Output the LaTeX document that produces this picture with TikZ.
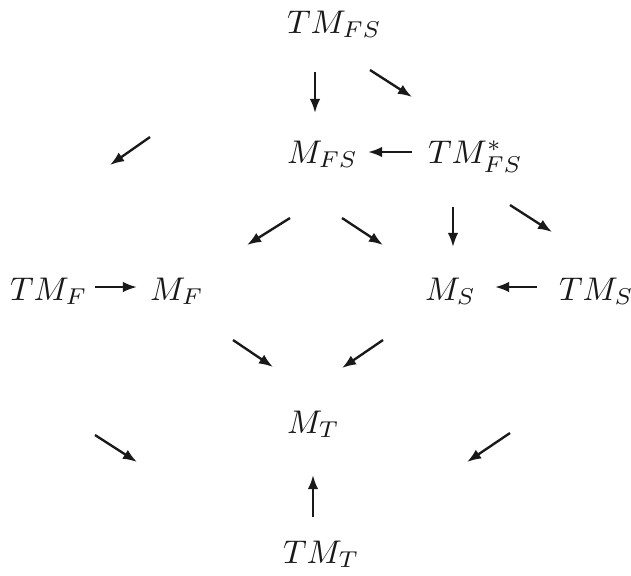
\documentclass[tikz,border=0pt]{standalone}
\usetikzlibrary{calc,arrows.meta}
\definecolor{ink}{RGB}{25,25,25}
\tikzset{
  lbl/.style={anchor=base west, inner sep=0pt, outer sep=0pt, text=ink},
  arr/.style={draw=ink, line width=0.72pt, -{Latex[length=4.3pt,width=3.2pt]}}
}
\begin{document}
\begin{tikzpicture}[x=0.305pt,y=-0.305pt]
\useasboundingbox (0,0) rectangle (631,575);
% nodes
\node[lbl] (tmfs)  at (287,33)  {$TM_{FS}$};
\node[lbl] (mfs)   at (287,163) {$M_{FS}$};
\node[lbl] (tmfss) at (428,163) {$TM^*_{FS}$};
\node[lbl] (tmf)   at (10,300)  {$TM_F$};
\node[lbl] (mf)    at (150,300) {$M_F$};
\node[lbl] (ms)    at (425,300) {$M_S$};
\node[lbl] (tms)   at (559,300) {$TM_S$};
\node[lbl] (mt)    at (287,433) {$M_T$};
\node[lbl] (tmt)   at (283,563) {$TM_T$};
% free ends of dangling arrows
\coordinate (d1) at (110,165);
\coordinate (d2s) at (95,435);
\coordinate (d2e) at (137,462);
\coordinate (d3s) at (510,433);
\coordinate (d3e) at (467,462);
% arrows
\draw[arr] ($(tmfs.base west)+(28,39)$) -- ($(mfs.base west)+(28,-50)$);
\draw[arr] ($(tmfs.base west)+(83,37)$) -- ($(tmfss.base west)+(-16,-66)$);
\draw[arr] ($(tmfss.base west)+(-16,-11)$) -- ($(mfs.base west)+(81,-11)$);
\draw[arr] ($(tmfs.base west)+(-137,104)$) -- (d1);
\draw[arr] ($(mfs.base west)+(3,55)$) -- ($(mf.base west)+(97,-55)$);
\draw[arr] ($(mfs.base west)+(55,55)$) -- ($(ms.base west)+(-42,-55)$);
\draw[arr] ($(tmfss.base west)+(25,44)$) -- ($(ms.base west)+(28,-53)$);
\draw[arr] ($(tmfss.base west)+(82,42)$) -- ($(tms.base west)+(-7,-68)$);
\draw[arr] ($(tmf.base west)+(85,-13)$) -- ($(mf.base west)+(-13,-13)$);
\draw[arr] ($(tms.base west)+(-22,-13)$) -- ($(ms.base west)+(70,-13)$);
\draw[arr] ($(mf.base west)+(83,40)$) -- ($(mt.base west)+(-14,-66)$);
\draw[arr] ($(ms.base west)+(-42,40)$) -- ($(mt.base west)+(55,-65)$);
\draw[arr] (d2s) -- (d2e);
\draw[arr] (d3s) -- (d3e);
\draw[arr] ($(tmt.base west)+(30,-46)$) -- ($(mt.base west)+(26,42)$);
\end{tikzpicture}
\end{document}
